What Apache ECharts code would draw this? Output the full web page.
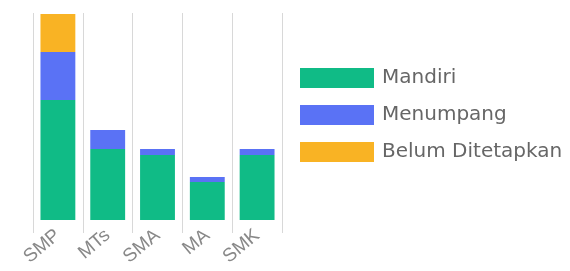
<!DOCTYPE html>
<html>
<head>
    <meta charset="utf-8">
    <title>ECharts</title>
    <script src="https://cdn.jsdelivr.net/npm/echarts@6/dist/echarts.min.js"></script>
</head>
<body style="margin:0">
    <div id="main" style="width: 570px;height:271px;"></div>
    <script type="text/javascript">
        var categories = ['SMP', 'MTs', 'SMA', 'MA', 'SMK'];
        var mandiri = [120, 71, 65, 38, 65];
        var menumpang = [48, 19, 6, 5, 6];
        var belumDitetapkan = [38, 0, 0, 0, 0];

        var myChart = echarts.init(document.getElementById('main'));

        var option = {
            animation: false,
            color: ['#10bb86', '#5a72f5', '#f9b324'],
            grid: {
                left: 33,
                right: 288,
                top: 13,
                bottom: 51
            },
            legend: {
                orient: 'vertical',
                left: 295,
                top: 63,
                itemWidth: 74,
                itemHeight: 20,
                itemGap: 17,
                icon: 'rect',
                textStyle: {
                    fontFamily: 'DejaVu Sans',
                    fontSize: 20,
                    color: '#666',
                    padding: [0, 0, 0, 3]
                },
                data: ['Mandiri', 'Menumpang', 'Belum Ditetapkan']
            },
            xAxis: {
                type: 'category',
                data: categories,
                axisLine: { show: false },
                axisTick: {
                    show: true,
                    length: 13,
                    lineStyle: { color: '#d8d8d8' }
                },
                splitLine: {
                    show: true,
                    lineStyle: { color: '#d8d8d8' }
                },
                axisLabel: {
                    rotate: 40,
                    margin: 13,
                    color: '#888',
                    fontFamily: 'Liberation Sans',
                    fontSize: 19
                }
            },
            yAxis: {
                type: 'value',
                min: 0,
                max: 207,
                show: false,
                splitLine: { show: false }
            },
            series: [
                { name: 'Mandiri', type: 'bar', stack: 'total', barCategoryGap: '30%', data: mandiri },
                { name: 'Menumpang', type: 'bar', stack: 'total', data: menumpang },
                { name: 'Belum Ditetapkan', type: 'bar', stack: 'total', data: belumDitetapkan }
            ]
        };

        myChart.setOption(option);
    </script>
</body>
</html>
